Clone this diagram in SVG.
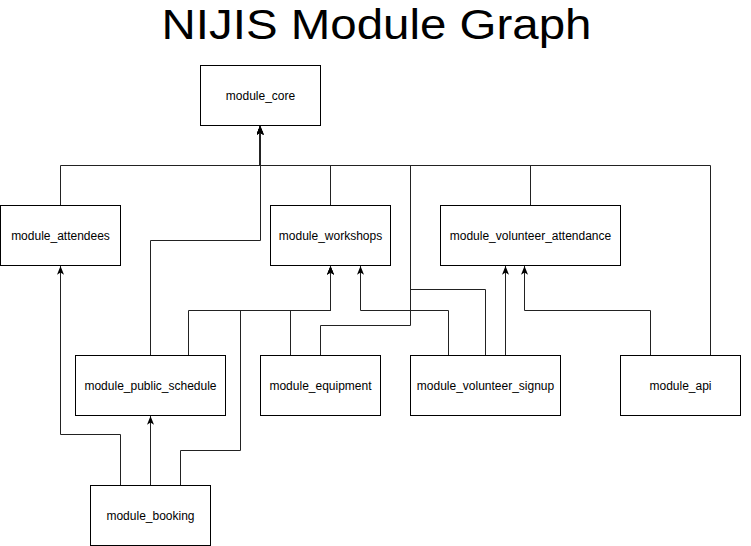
<svg xmlns="http://www.w3.org/2000/svg" width="751" height="546" viewBox="0 0 751 546">
  <defs>
    <style>
      .node rect { fill: #ffffff; stroke: #000000; stroke-width: 1; }
      .node text { font-family: "Liberation Sans", Arial, Helvetica, sans-serif; font-size: 12px; fill: #000000; text-anchor: middle; }
      .title { font-family: "Liberation Sans", Arial, Helvetica, sans-serif; font-size: 43px; fill: #000000; text-anchor: middle; }
      .edge { fill: none; stroke: #222222; stroke-width: 1; marker-end: url(#arrow); }
    </style>
    <marker id="arrow" viewBox="0 0 10 8" refX="10" refY="4" markerWidth="9" markerHeight="7" markerUnits="userSpaceOnUse" orient="auto">
      <path d="M0,0 L10,4 L0,8 L2.5,4 z" fill="#000000"/>
    </marker>
  </defs>
  <rect x="0" y="0" width="751" height="546" fill="#ffffff"/>
  <text class="title" x="376.5" y="39" textLength="430" lengthAdjust="spacingAndGlyphs">NIJIS Module Graph</text>

  <g id="connectors">
    <path class="edge" d="M60.5,205 V165.5 H260 V126"/>
    <path class="edge" d="M150.5,355 V240.5 H260.5 V126"/>
    <path class="edge" d="M330.5,205 V165.5 H260 V126"/>
    <path class="edge" d="M530.5,205 V165.5 H260 V126"/>
    <path class="edge" d="M710.5,355 V165.5 H260 V126"/>
    <path class="edge" d="M320.5,355 V325.5 H410.5 V165.5 H260 V126"/>
    <path class="edge" d="M485.5,355 V289.5 H410.5 V165.5 H260 V126"/>
    <path class="edge" d="M188.5,355 V310.5 H330.5 V266"/>
    <path class="edge" d="M180.5,485 V450.5 H240.5 V310.5 H330.5 V266"/>
    <path class="edge" d="M290.5,355 V310.5 H330.5 V266"/>
    <path class="edge" d="M448.5,355 V310.5 H360.5 V266"/>
    <path class="edge" d="M505.5,355 V266"/>
    <path class="edge" d="M650.5,355 V310.5 H524.5 V266"/>
    <path class="edge" d="M120.5,485 V434.5 H60.5 V266"/>
    <path class="edge" d="M150.5,485 V416"/>
  </g>

  <g id="module_core" class="node">
    <rect x="200.5" y="65.5" width="120" height="60"/>
    <text x="260.5" y="99.5">module_core</text>
  </g>
  <g id="module_attendees" class="node">
    <rect x="0.5" y="205.5" width="120" height="60"/>
    <text x="60.5" y="239.5">module_attendees</text>
  </g>
  <g id="module_workshops" class="node">
    <rect x="270.5" y="205.5" width="120" height="60"/>
    <text x="330.5" y="239.5">module_workshops</text>
  </g>
  <g id="module_volunteer_attendance" class="node">
    <rect x="440.5" y="205.5" width="180" height="60"/>
    <text x="530.5" y="239.5">module_volunteer_attendance</text>
  </g>
  <g id="module_public_schedule" class="node">
    <rect x="75.5" y="355.5" width="150" height="60"/>
    <text x="150.5" y="389.5">module_public_schedule</text>
  </g>
  <g id="module_equipment" class="node">
    <rect x="260.5" y="355.5" width="120" height="60"/>
    <text x="320.5" y="389.5">module_equipment</text>
  </g>
  <g id="module_volunteer_signup" class="node">
    <rect x="410.5" y="355.5" width="150" height="60"/>
    <text x="485.5" y="389.5">module_volunteer_signup</text>
  </g>
  <g id="module_api" class="node">
    <rect x="620.5" y="355.5" width="120" height="60"/>
    <text x="680.5" y="389.5">module_api</text>
  </g>
  <g id="module_booking" class="node">
    <rect x="90.5" y="485.5" width="120" height="60"/>
    <text x="150.5" y="519.5">module_booking</text>
  </g>
</svg>
